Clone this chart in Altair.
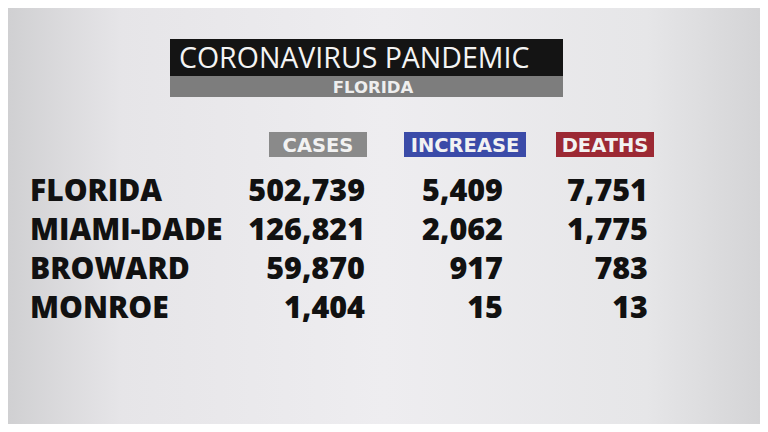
import altair as alt
import pandas as pd

# ---- data ----
title_text = "CORONAVIRUS PANDEMIC"
subtitle_text = "FLORIDA"
regions = ["FLORIDA", "MIAMI-DADE", "BROWARD", "MONROE"]
cases = [502739, 126821, 59870, 1404]
increase = [5409, 2062, 917, 15]
deaths = [7751, 1775, 783, 13]
columns = ["CASES", "INCREASE", "DEATHS"]
header_colors = ["#8a8a8a", "#3b4ba8", "#9c2934"]

# ---- layout ----
W, H = 752, 416
HEAVY = "Open Sans"
WIDE = "DejaVu Sans"
col_right = {"CASES": 357, "INCREASE": 495, "DEATHS": 640}
box_span = {"CASES": (261, 359), "INCREASE": (396, 518), "DEATHS": (548, 646)}

table = pd.DataFrame({"region": regions, "CASES": cases,
                      "INCREASE": increase, "DEATHS": deaths})
yscale = alt.Scale(type="point", domain=regions, range=[193, 310], padding=0)


def one(text):
    return pd.DataFrame({"t": [text]})


bg_gradient = alt.Gradient(
    gradient="linear", x1=0, y1=0, x2=1, y2=0,
    stops=[alt.GradientStop(offset=0, color="#d0d0d2"),
           alt.GradientStop(offset=0.15, color="#e6e5e8"),
           alt.GradientStop(offset=0.5, color="#eeedf0"),
           alt.GradientStop(offset=0.85, color="#e6e6e8"),
           alt.GradientStop(offset=1, color="#d4d4d6")])

layers = []
layers.append(alt.Chart(one("")).mark_rect(fill=bg_gradient).encode(
    x=alt.value(0), x2=alt.value(W), y=alt.value(0), y2=alt.value(H)))

# title block
layers.append(alt.Chart(one(title_text)).mark_rect(color="#141414").encode(
    x=alt.value(162), x2=alt.value(555), y=alt.value(31), y2=alt.value(68)))
layers.append(alt.Chart(one(subtitle_text)).mark_rect(color="#7d7d7d").encode(
    x=alt.value(162), x2=alt.value(555), y=alt.value(68), y2=alt.value(89)))
layers.append(alt.Chart(one(title_text)).mark_text(
    font=HEAVY, fontSize=28.5, fontWeight=500, color="#f4f4f4", align="left",
    baseline="alphabetic").encode(x=alt.value(171), y=alt.value(59.5), text="t:N"))
layers.append(alt.Chart(one(subtitle_text)).mark_text(
    font=WIDE, fontSize=16.5, fontWeight="bold", color="#eeeeee", align="center",
    baseline="alphabetic").encode(x=alt.value(365), y=alt.value(85), text="t:N"))

# column headers
for name, colr in zip(columns, header_colors):
    x0, x1 = box_span[name]
    layers.append(alt.Chart(one(name)).mark_rect(color=colr).encode(
        x=alt.value(x0), x2=alt.value(x1), y=alt.value(124), y2=alt.value(149)))
    layers.append(alt.Chart(one(name)).mark_text(
        font=WIDE, fontSize=19.5, fontWeight="bold", color="#f2f2f2", align="center",
        baseline="alphabetic").encode(x=alt.value((x0 + x1) / 2), y=alt.value(144),
                                      text="t:N"))

# row labels
layers.append(alt.Chart(table).mark_text(
    font=HEAVY, fontSize=30, fontWeight=800, color="#111111", align="left",
    baseline="alphabetic").encode(
    x=alt.value(22),
    y=alt.Y("region:N", scale=yscale, axis=None),
    text="region:N"))

# values
for name in columns:
    layers.append(alt.Chart(table).mark_text(
        font=HEAVY, fontSize=30.5, fontWeight=800, color="#111111", align="right",
        baseline="alphabetic").encode(
        x=alt.value(col_right[name]),
        y=alt.Y("region:N", scale=yscale, axis=None),
        text=alt.Text(f"{name}:Q", format=",")))

chart = alt.layer(*layers).properties(
    width=W, height=H, padding=0, autosize=alt.AutoSizeParams(type="none"),
    background="#e4e4e4"
).configure_view(stroke=None)

chart.save("out.html", embed_options={"renderer": "svg", "actions": False})
